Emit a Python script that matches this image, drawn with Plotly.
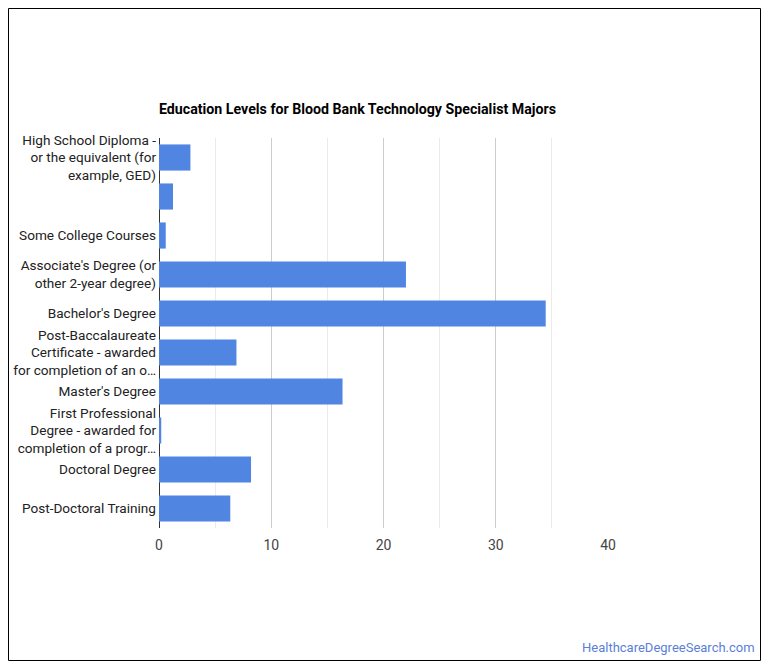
import plotly.graph_objects as go

categories = [
    "High School Diploma -<br>or the equivalent (for<br>example, GED)",
    " ",
    "Some College Courses",
    "Associate's Degree (or<br>other 2-year degree)",
    "Bachelor's Degree",
    "Post-Baccalaureate<br>Certificate - awarded<br>for completion of an o…",
    "Master's Degree",
    "First Professional<br>Degree - awarded for<br>completion of a progr…",
    "Doctoral Degree",
    "Post-Doctoral Training",
]
values = [2.8, 1.25, 0.6, 22.0, 34.45, 6.9, 16.35, 0.2, 8.2, 6.35]
x_ticks = [0, 10, 20, 30, 40]

L, R, T, B = 159, 162, 138, 142
W, H = 770, 670
pw, ph = W - L - R, H - T - B

def px(x):
    return (x - L) / pw

def py(y):
    return (H - B - y) / ph

fig = go.Figure(go.Bar(
    x=values, y=categories, orientation="h",
    marker=dict(color="#5085e2", line=dict(width=0)),
    width=0.67,
))

fig.update_layout(
    width=W, height=H,
    margin=dict(l=L, r=R, t=T, b=B, autoexpand=False),
    paper_bgcolor="white", plot_bgcolor="white",
    font=dict(family="Roboto", size=14, color="#222"),
    showlegend=False,
    title=dict(
        text="<b>Education Levels for Blood Bank Technology Specialist Majors</b>",
        x=px(159), xanchor="left", xref="paper",
        y=1 - 109 / H, yanchor="middle",
        font=dict(family="Roboto", size=14.2, color="#000"),
    ),
    xaxis=dict(
        range=[0, 40], tickvals=x_ticks, showgrid=True, gridcolor="#cccccc", gridwidth=1,
        minor=dict(dtick=5, showgrid=True, gridcolor="#ebebeb", gridwidth=1),
        zeroline=True, zerolinecolor="#333333", zerolinewidth=1,
        tickfont=dict(color="#444", size=14), ticks="outside", ticklen=4, tickcolor="rgba(0,0,0,0)",
        fixedrange=True, automargin=False,
    ),
    yaxis=dict(
        autorange="reversed", showgrid=False, tickfont=dict(color="#222", size=13.6),
        ticks="", ticklabelstandoff=2, automargin=False,
    ),
    bargap=0.33,
)

fig.add_shape(type="rect", xref="paper", yref="paper",
              x0=px(8.5), x1=px(760.5), y0=py(660.5), y1=py(8.5),
              line=dict(color="#000", width=1), fillcolor="rgba(0,0,0,0)", layer="above")

fig.add_annotation(text="HealthcareDegreeSearch.com", xref="paper", yref="paper",
                   x=px(757), y=py(647), xanchor="right", yanchor="middle", showarrow=False,
                   font=dict(family="Roboto", size=13, color="#5b7fd9"))

fig.write_html("out.html")
